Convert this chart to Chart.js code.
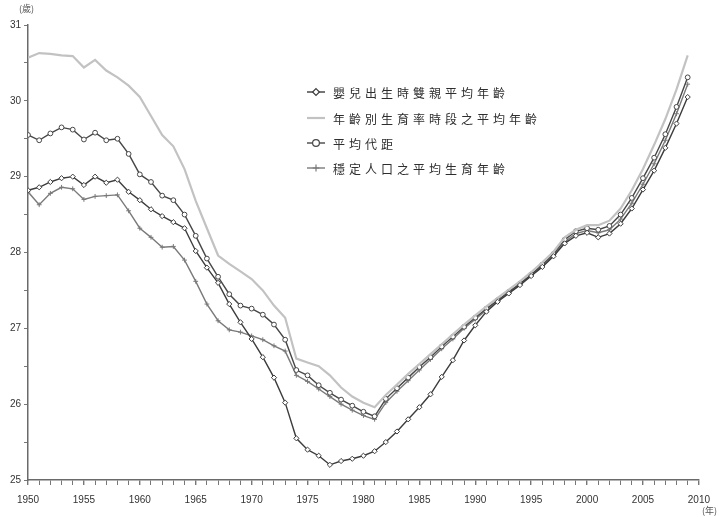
<!DOCTYPE html>
<html>
<head>
<meta charset="utf-8">
<script src="https://cdn.jsdelivr.net/npm/chart.js@4.4.0/dist/chart.umd.min.js"></script>
<style>
  html, body { margin: 0; padding: 0; background: #ffffff; }
  #wrap { width: 719px; height: 517px; }
</style>
</head>
<body>
<div id="wrap"><canvas id="c" width="719" height="517"></canvas></div>
<script>
// Calendar years of the series
const years = [
  1950, 1951, 1952, 1953, 1954, 1955, 1956, 1957, 1958, 1959,
  1960, 1961, 1962, 1963, 1964, 1965, 1966, 1967, 1968, 1969,
  1970, 1971, 1972, 1973, 1974, 1975, 1976, 1977, 1978, 1979,
  1980, 1981, 1982, 1983, 1984, 1985, 1986, 1987, 1988, 1989,
  1990, 1991, 1992, 1993, 1994, 1995, 1996, 1997, 1998, 1999,
  2000, 2001, 2002, 2003, 2004, 2005, 2006, 2007, 2008, 2009
];

const seriesNames = [
  '嬰兒出生時雙親平均年齡',
  '年齡別生育率時段之平均年齡',
  '平均代距',
  '穩定人口之平均生育年齡'
];

// 嬰兒出生時雙親平均年齡
const parentsAge = [
  28.82, 28.86, 28.93, 28.98, 29.00, 28.89, 29.00, 28.92, 28.96, 28.80,
  28.69, 28.57, 28.48, 28.40, 28.32, 28.02, 27.80, 27.60, 27.32, 27.08,
  26.86, 26.62, 26.35, 26.02, 25.55, 25.40, 25.32, 25.20, 25.25, 25.28,
  25.32, 25.38, 25.50, 25.64, 25.80, 25.96, 26.13, 26.36, 26.58, 26.84,
  27.04, 27.22, 27.35, 27.46, 27.57, 27.69, 27.81, 27.95, 28.12, 28.22,
  28.26, 28.20, 28.25, 28.38, 28.58, 28.83, 29.08, 29.38, 29.70, 30.05
];

// 年齡別生育率時段之平均年齡
const scheduleAge = [
  30.57, 30.63, 30.62, 30.60, 30.59, 30.44, 30.54, 30.40, 30.31, 30.20,
  30.05, 29.80, 29.55, 29.40, 29.10, 28.68, 28.32, 27.96, 27.85, 27.75,
  27.65, 27.50, 27.30, 27.14, 26.60, 26.55, 26.50, 26.38, 26.22, 26.10,
  26.02, 25.96, 26.12, 26.26, 26.40, 26.53, 26.66, 26.79, 26.92, 27.05,
  27.17, 27.29, 27.40, 27.51, 27.62, 27.74, 27.87, 28.01, 28.20, 28.30,
  28.36, 28.36, 28.42, 28.58, 28.82, 29.10, 29.42, 29.76, 30.15, 30.60
];

// 平均代距
const generationLength = [
  29.55, 29.48, 29.57, 29.65, 29.62, 29.49, 29.58, 29.48, 29.50, 29.30,
  29.03, 28.93, 28.75, 28.69, 28.50, 28.22, 27.92, 27.68, 27.45, 27.30,
  27.26, 27.18, 27.05, 26.85, 26.45, 26.38, 26.25, 26.15, 26.06, 25.98,
  25.90, 25.84, 26.07, 26.21, 26.35, 26.49, 26.62, 26.76, 26.89, 27.02,
  27.14, 27.26, 27.37, 27.48, 27.59, 27.71, 27.84, 27.98, 28.17, 28.28,
  28.32, 28.30, 28.35, 28.50, 28.72, 28.98, 29.25, 29.56, 29.92, 30.31
];

// 穩定人口之平均生育年齡
const stableAge = [
  28.80, 28.63, 28.78, 28.86, 28.84, 28.70, 28.74, 28.75, 28.76, 28.55,
  28.32, 28.20, 28.07, 28.08, 27.90, 27.62, 27.32, 27.10, 26.98, 26.95,
  26.90, 26.85, 26.77, 26.70, 26.38, 26.30, 26.20, 26.10, 26.00, 25.92,
  25.85, 25.80, 26.02, 26.17, 26.31, 26.45, 26.59, 26.73, 26.86, 27.00,
  27.12, 27.24, 27.36, 27.47, 27.58, 27.70, 27.82, 27.96, 28.14, 28.25,
  28.29, 28.26, 28.30, 28.44, 28.65, 28.90, 29.17, 29.48, 29.83, 30.22
];

const yMin = 25, yMax = 31;
const xMin = 1950, xMax = 2010;

const toPoints = vals => years.map((yr, i) => ({ x: yr, y: vals[i] }));

const styles = [
  { color: '#3c3c3c', width: 1.4, point: 'rectRot', radius: 2.6, fill: '#ffffff' },
  { color: '#c2c2c2', width: 2.2, point: false,     radius: 0,   fill: '#c2c2c2' },
  { color: '#474747', width: 1.4, point: 'circle',  radius: 2.4, fill: '#ffffff' },
  { color: '#7a7a7a', width: 1.4, point: 'cross',   radius: 2.4, fill: '#7a7a7a' }
];
const seriesValues = [parentsAge, scheduleAge, generationLength, stableAge];

const datasets = seriesValues.map((vals, i) => ({
  label: seriesNames[i],
  data: toPoints(vals),
  borderColor: styles[i].color,
  borderWidth: styles[i].width,
  pointStyle: styles[i].point,
  pointRadius: styles[i].radius,
  pointBorderColor: styles[i].color,
  pointBackgroundColor: styles[i].fill,
  pointBorderWidth: 1,
  tension: 0,
  fill: false
}));

// Legend block inside the plot plus the unit captions
const annotations = {
  id: 'annotations',
  afterDraw(chart) {
    const ctx = chart.ctx;
    ctx.save();
    // unit captions
    ctx.fillStyle = '#555555';
    ctx.font = '9px "Noto Sans CJK TC", sans-serif';
    ctx.textBaseline = 'middle';
    ctx.textAlign = 'left';
    ctx.fillText('(歲)', 19, 9);
    ctx.textAlign = 'right';
    ctx.fillText('(年)', 717, 511);

    // legend
    const x0 = 307, x1 = 325, tx = 333;
    const rowY = [92, 118, 143, 168];
    ctx.textAlign = 'left';
    ctx.font = '12px "Noto Sans CJK TC", sans-serif';
    if ('letterSpacing' in ctx) ctx.letterSpacing = '4px';
    datasets.forEach((ds, i) => {
      const y = rowY[i];
      ctx.strokeStyle = ds.borderColor;
      ctx.lineWidth = ds.borderWidth;
      ctx.beginPath();
      ctx.moveTo(x0, y);
      ctx.lineTo(x1, y);
      ctx.stroke();
      const cx = (x0 + x1) / 2, r = 3.4;
      ctx.lineWidth = 1.2;
      ctx.fillStyle = ds.pointBackgroundColor;
      ctx.strokeStyle = ds.pointBorderColor;
      if (ds.pointStyle === 'rectRot') {
        ctx.beginPath();
        ctx.moveTo(cx, y - r); ctx.lineTo(cx + r, y); ctx.lineTo(cx, y + r); ctx.lineTo(cx - r, y);
        ctx.closePath(); ctx.fill(); ctx.stroke();
      } else if (ds.pointStyle === 'circle') {
        ctx.beginPath(); ctx.arc(cx, y, r, 0, Math.PI * 2); ctx.fill(); ctx.stroke();
      } else if (ds.pointStyle === 'cross') {
        ctx.beginPath();
        ctx.moveTo(cx, y - r); ctx.lineTo(cx, y + r);
        ctx.moveTo(cx - r, y); ctx.lineTo(cx + r, y);
        ctx.stroke();
      }
      ctx.fillStyle = '#2e2e2e';
      ctx.fillText(ds.label, tx, y + 1);
    });
    ctx.restore();
  }
};

new Chart(document.getElementById('c'), {
  type: 'line',
  data: { datasets },
  options: {
    responsive: false,
    animation: false,
    devicePixelRatio: 1,
    layout: { padding: { top: 25, right: 12, bottom: 0, left: 0 } },
    plugins: { legend: { display: false }, tooltip: { enabled: false } },
    scales: {
      x: {
        type: 'linear',
        min: xMin,
        max: xMax,
        afterFit: s => { s.height = 37; },
        border: { display: true, color: '#6a6a6a', width: 1.5 },
        grid: { drawOnChartArea: false, drawTicks: true, tickLength: 5,
                color: '#777777',
                lineWidth: c => (c.tick && c.tick.value % 5 === 0 ? 1.4 : 1) },
        ticks: {
          stepSize: 1,
          autoSkip: false,
          maxRotation: 0,
          minRotation: 0,
          padding: 9,
          color: '#333333',
          font: { family: '"Liberation Sans", Arial, sans-serif', size: 10 },
          callback: v => (v % 5 === 0 ? String(v) : '')
        }
      },
      y: {
        type: 'linear',
        min: yMin,
        max: yMax,
        afterFit: s => { s.width = 28; },
        border: { display: true, color: '#6a6a6a', width: 1.5 },
        grid: { drawOnChartArea: false, drawTicks: true, tickLength: 4, color: '#777777' },
        ticks: {
          stepSize: 0.5,
          autoSkip: false,
          padding: 3,
          color: '#333333',
          font: { family: '"Liberation Sans", Arial, sans-serif', size: 10 },
          callback: v => (Number.isInteger(v) ? String(v) : '')
        }
      }
    }
  },
  plugins: [annotations]
});
</script>
</body>
</html>
